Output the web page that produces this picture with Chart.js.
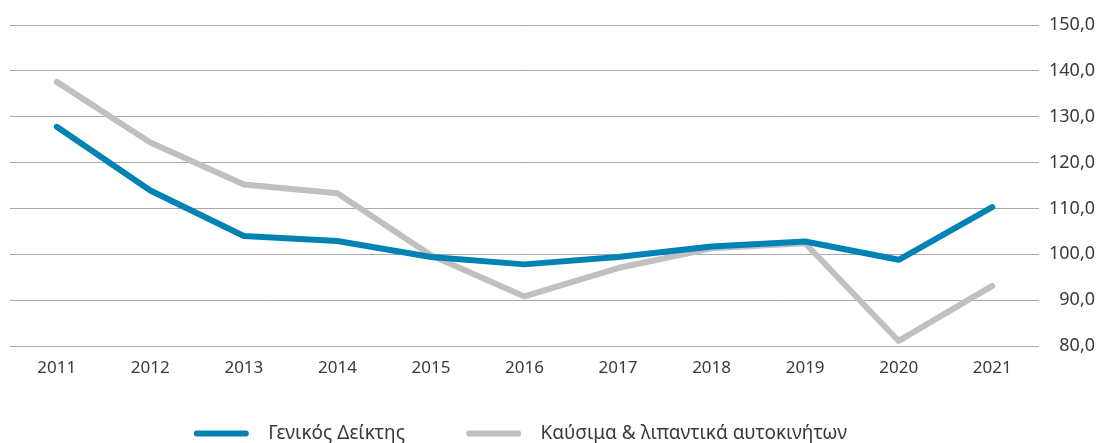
<!DOCTYPE html>
<html>
<head>
<meta charset="utf-8">
<script src="https://cdn.jsdelivr.net/npm/chart.js@4.4.1/dist/chart.umd.min.js"></script>
<style>
  html, body { margin: 0; padding: 0; background: #fff; overflow: hidden; }
  #wrap { width: 1104px; height: 453px; }
</style>
</head>
<body>
<div id="wrap"><canvas id="cpi-chart"></canvas></div>
<script>
const years = ["2011", "2012", "2013", "2014", "2015", "2016", "2017", "2018", "2019", "2020", "2021"];
const generalIndex = [127.8, 113.9, 104.0, 102.9, 99.4, 97.8, 99.4, 101.7, 102.8, 98.8, 110.3];
const fuelIndex = [137.6, 124.4, 115.2, 113.3, 99.8, 90.8, 97.0, 101.3, 102.4, 81.1, 93.1];
const seriesNames = ["Γενικός Δείκτης", "Καύσιμα & λιπαντικά αυτοκινήτων"];

const fontFamily = "'Noto Sans', 'DejaVu Sans', sans-serif";

const ctx = document.getElementById("cpi-chart");

new Chart(ctx, {
  type: "line",
  data: {
    labels: years,
    datasets: [
      {
        label: seriesNames[0],
        data: generalIndex,
        borderColor: "#0083b4",
        backgroundColor: "#0083b4",
        borderWidth: 6,
        pointRadius: 0,
        borderCapStyle: "round",
        borderJoinStyle: "round",
        tension: 0
      },
      {
        label: seriesNames[1],
        data: fuelIndex,
        borderColor: "#bfc0c2",
        backgroundColor: "#bfc0c2",
        borderWidth: 6,
        pointRadius: 0,
        borderCapStyle: "round",
        borderJoinStyle: "round",
        tension: 0
      }
    ]
  },
  options: {
    responsive: true,
    maintainAspectRatio: false,
    animation: false,
    layout: {
      padding: { top: 25, left: 10, right: 9, bottom: 0 }
    },
    plugins: {
      tooltip: { enabled: false },
      legend: {
        position: "bottom",
        labels: {
          color: "#3a3a3a",
          font: { family: fontFamily, size: 19 },
          boxWidth: 55,
          boxHeight: 6,
          useBorderRadius: true,
          borderRadius: 3,
          padding: 2,
          generateLabels: function (chart) {
            // spaces stand in for the wider gaps of the original legend
            return chart.data.datasets.map(function (ds, i) {
              const tail = i === 0 ? "            " : "             ";
              return {
                text: "  " + ds.label + tail,
                fillStyle: ds.borderColor,
                strokeStyle: ds.borderColor,
                lineWidth: 0,
                fontColor: "#3a3a3a",
                datasetIndex: i,
                borderRadius: 3
              };
            });
          }
        }
      }
    },
    scales: {
      x: {
        offset: true,
        grid: { display: false, drawTicks: false },
        border: { display: false },
        ticks: {
          color: "#3a3a3a",
          font: { family: fontFamily, size: 17 },
          padding: 12,
          maxRotation: 0
        },
        afterFit: function (scale) {
          scale.height = 76;
        }
      },
      y: {
        position: "right",
        min: 80,
        max: 150,
        grid: { color: "#a9a9a9", lineWidth: 1, drawTicks: false },
        border: { display: false },
        ticks: {
          stepSize: 10,
          color: "#3a3a3a",
          font: { family: fontFamily, size: 18 },
          padding: 5,
          crossAlign: "far",
          callback: function (value) {
            return value.toFixed(1).replace(".", ",");
          }
        }
      }
    }
  }
});
</script>
</body>
</html>
